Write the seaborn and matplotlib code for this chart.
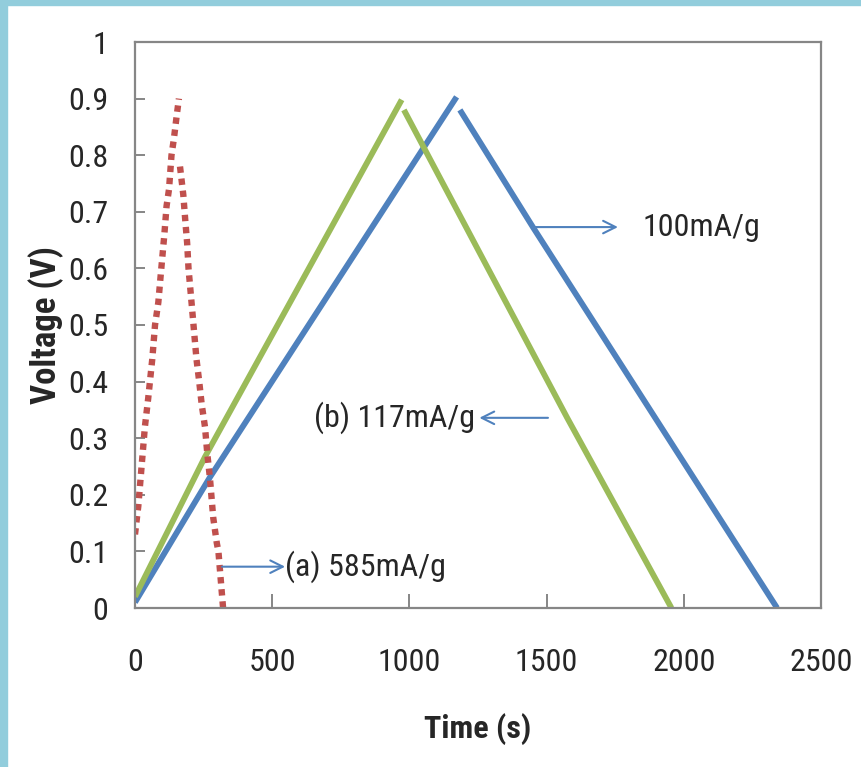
import matplotlib
matplotlib.use("Agg")
import matplotlib.pyplot as plt
from matplotlib import font_manager
from matplotlib.patches import Rectangle
import seaborn as sns
import pandas as pd

# ---- data ----
red_charge_t = [0, 12, 24, 36, 48, 63, 73, 85, 94, 107, 115, 124, 133, 142, 152, 160]
red_charge_v = [0.13, 0.18, 0.25, 0.32, 0.37, 0.44, 0.50, 0.54, 0.59, 0.66, 0.71, 0.74, 0.80, 0.83, 0.87, 0.90]
red_dis_t = [164, 176, 184, 190, 195, 206, 215, 224, 234, 243, 255, 264, 273, 285, 298, 304, 321]
red_dis_v = [0.78, 0.73, 0.68, 0.645, 0.60, 0.54, 0.49, 0.44, 0.40, 0.36, 0.32, 0.27, 0.23, 0.16, 0.115, 0.10, 0.0]

green_charge_t = [0, 255, 972]
green_charge_v = [0.02, 0.267, 0.898]
green_dis_t = [980, 1575, 1955]
green_dis_v = [0.88, 0.336, 0.0]

blue_charge_t = [0, 273, 1172]
blue_charge_v = [0.01, 0.231, 0.903]
blue_dis_t = [1184, 1450, 2340]
blue_dis_v = [0.88, 0.673, 0.0]

x_ticks = [0, 500, 1000, 1500, 2000, 2500]
y_ticks = [0, 0.1, 0.2, 0.3, 0.4, 0.5, 0.6, 0.7, 0.8, 0.9, 1.0]
y_tick_labels = ["0", "0.1", "0.2", "0.3", "0.4", "0.5", "0.6", "0.7", "0.8", "0.9", "1"]

labels = {"a": "(a) 585mA/g", "b": "(b) 117mA/g", "c": "100mA/g"}

# ---- styling ----
sns.set_style("white")
avail = {f.name for f in font_manager.fontManager.ttflist}
narrow = next((f for f in ["Liberation Sans Narrow", "DejaVu Sans Condensed", "Roboto Condensed",
                           "Open Sans Condensed", "Liberation Sans"] if f in avail), "DejaVu Sans")
plt.rcParams["font.family"] = [narrow, "DejaVu Sans"]

BLUE = "#4F81BD"
GREEN = "#9BBB59"
RED = "#C0504D"
GRAY = "#868686"

def seg(t, v, series, part):
    return pd.DataFrame({"t": t, "v": v, "series": series, "unit": series + part})

df_red = pd.concat([seg(red_charge_t, red_charge_v, "red", "c"), seg(red_dis_t, red_dis_v, "red", "d")])
df_green = pd.concat([seg(green_charge_t, green_charge_v, "green", "c"), seg(green_dis_t, green_dis_v, "green", "d")])
df_blue = pd.concat([seg(blue_charge_t, blue_charge_v, "blue", "c"), seg(blue_dis_t, blue_dis_v, "blue", "d")])

fig = plt.figure(figsize=(8.62, 7.67), dpi=100)
ax = fig.add_axes([135 / 862, 1 - 608 / 767, (821 - 135) / 862, (608 - 42) / 767])

sns.lineplot(data=df_blue, x="t", y="v", units="unit", estimator=None, sort=False,
             color=BLUE, lw=4.2, ax=ax, solid_capstyle="butt")
sns.lineplot(data=df_green, x="t", y="v", units="unit", estimator=None, sort=False,
             color=GREEN, lw=4.2, ax=ax, solid_capstyle="butt")
n_before = len(ax.lines)
sns.lineplot(data=df_red, x="t", y="v", units="unit", estimator=None, sort=False,
             color=RED, lw=4.6, ax=ax)
for ln in ax.lines[n_before:]:
    ln.set_linestyle((0, (1, 0.9)))
    ln.set_dash_capstyle("butt")

ax.set_xlim(0, 2500)
ax.set_ylim(0, 1)
ax.set_xticks(x_ticks)
ax.set_xticklabels([str(v) for v in x_ticks])
ax.set_yticks(y_ticks)
ax.set_yticklabels(y_tick_labels)

for s in ax.spines.values():
    s.set_color(GRAY)
    s.set_linewidth(1.6)
    s.set_visible(True)

ax.tick_params(axis="y", direction="in", length=7, width=1.4, color=GRAY, pad=19, labelsize=23)
ax.tick_params(axis="x", direction="in", length=10, width=1.4, color=GRAY, pad=29, labelsize=23)
ax.tick_params(left=True, bottom=True)

ax.set_xlabel("Time (s)", fontsize=23, fontweight="bold", labelpad=26)
ax.set_ylabel("Voltage (V)", fontsize=25, fontweight="bold")
ax.yaxis.set_label_coords(-0.104, 0.5)

arrow = dict(arrowstyle="->,head_length=0.9,head_width=0.45", color=BLUE, lw=1.5, shrinkA=0, shrinkB=0)
# 100 mA/g
ax.annotate("", xy=(1760, 0.673), xytext=(1447, 0.673), arrowprops=arrow)
ax.text(1850, 0.673, labels["c"], fontsize=23, va="center", ha="left")
# (b) 117 mA/g
ax.annotate("", xy=(1255, 0.336), xytext=(1505, 0.336), arrowprops=arrow)
ax.text(1240, 0.336, labels["b"], fontsize=23, va="center", ha="right")
# (a) 585 mA/g
ax.annotate("", xy=(547, 0.073), xytext=(317, 0.073), arrowprops=arrow)
ax.text(547, 0.073, labels["a"], fontsize=23, va="center", ha="left")

# light blue frame strips (top and left)
fig.patches.append(Rectangle((0, 1 - 5 / 767), 1, 5 / 767, transform=fig.transFigure,
                             color="#92CDDC", zorder=10))
fig.patches.append(Rectangle((0, 0), 7 / 862, 1, transform=fig.transFigure,
                             color="#92CDDC", zorder=10))

fig.savefig("out.png", dpi=100)
